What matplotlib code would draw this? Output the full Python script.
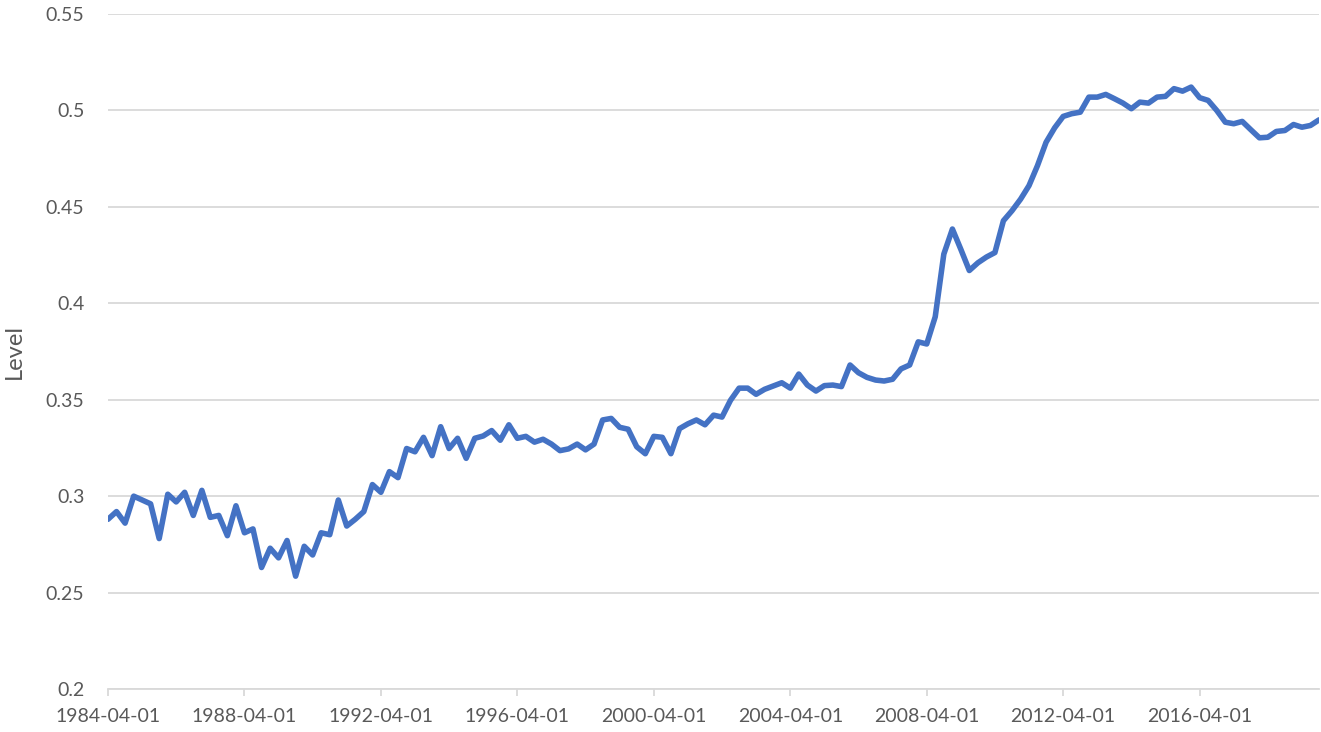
import pandas as pd
import matplotlib
matplotlib.use("Agg")
import matplotlib.pyplot as plt

# Quarterly observations, 1984-04-01 .. 2019-10-01
start_date = "1984-04-01"
level = [
    0.288, 0.292, 0.286, 0.300, 0.298, 0.296, 0.278, 0.301, 0.297, 0.302,
    0.290, 0.303, 0.289, 0.290, 0.2795, 0.295, 0.281, 0.283, 0.263, 0.273,
    0.268, 0.277, 0.2585, 0.274, 0.2695, 0.281, 0.280, 0.298, 0.2845, 0.288,
    0.292, 0.306, 0.302, 0.3127, 0.3096, 0.3247, 0.323, 0.3305, 0.321, 0.336,
    0.3247, 0.330, 0.3196, 0.330, 0.3312, 0.334, 0.329, 0.337, 0.330, 0.331,
    0.328, 0.3295, 0.327, 0.3236, 0.3245, 0.327, 0.324, 0.327, 0.3395, 0.3403,
    0.3357, 0.3347, 0.3256, 0.322, 0.331, 0.3305, 0.322, 0.335, 0.3375, 0.3395,
    0.337, 0.342, 0.341, 0.3497, 0.356, 0.356, 0.3528, 0.3554, 0.3571, 0.3588,
    0.356, 0.3633, 0.3576, 0.3545, 0.3573, 0.3576, 0.3568, 0.368, 0.364, 0.3616,
    0.3602, 0.3597, 0.3606, 0.366, 0.368, 0.380, 0.3789, 0.393, 0.4255, 0.4385,
    0.428, 0.417, 0.421, 0.424, 0.4263, 0.4428, 0.448, 0.454, 0.461, 0.4714,
    0.4835, 0.491, 0.4969, 0.4983, 0.4991, 0.5069, 0.5069, 0.5083, 0.5061, 0.5038,
    0.5009, 0.5043, 0.5038, 0.5069, 0.5073, 0.5113, 0.510, 0.5121, 0.5066, 0.5052,
    0.500, 0.4939, 0.4931, 0.4943, 0.490, 0.4858, 0.4861, 0.4891, 0.4896, 0.4927,
    0.4913, 0.4922, 0.4951,
]
y_ticks = [0.2, 0.25, 0.3, 0.35, 0.4, 0.45, 0.5, 0.55]
y_tick_labels = ["0.2", "0.25", "0.3", "0.35", "0.4", "0.45", "0.5", "0.55"]
x_tick_labels = ["1984-04-01", "1988-04-01", "1992-04-01", "1996-04-01",
                 "2000-04-01", "2004-04-01", "2008-04-01", "2012-04-01",
                 "2016-04-01"]

dates = pd.date_range(start_date, periods=len(level), freq="QS-JAN")

plt.rcParams["font.family"] = ["Lato", "DejaVu Sans"]

fig = plt.figure(figsize=(13.21, 7.32), dpi=100)
ax = fig.add_axes([108 / 1321, 1 - 689 / 732, (1319 - 108) / 1321, (689 - 14) / 732])

ax.plot(dates, level, color="#4472C4", linewidth=4.0, solid_joinstyle="round",
        solid_capstyle="round", zorder=3)

ax.set_xlim(dates[0], dates[-1])
ax.set_ylim(0.2, 0.55)

ax.set_yticks(y_ticks)
ax.set_yticklabels(y_tick_labels)
xt = pd.to_datetime(x_tick_labels)
ax.set_xticks(xt)
ax.set_xticklabels(x_tick_labels)

ax.grid(axis="y", color="#D9D9D9", linewidth=1.3)
ax.set_axisbelow(True)

for side in ["left", "right", "top"]:
    ax.spines[side].set_visible(False)
ax.spines["bottom"].set_color("#D9D9D9")
ax.spines["bottom"].set_linewidth(1.3)

ax.tick_params(axis="y", length=0, pad=17, labelsize=14, labelcolor="#595959")
ax.tick_params(axis="x", length=5, width=1.3, color="#D9D9D9", pad=9,
               labelsize=14, labelcolor="#595959")

# axis title sits near the left edge of the figure
ax.set_ylabel("Level", fontsize=17, color="#595959")
ax.yaxis.set_label_coords((25 - 108) / 1211, 0.5)

fig.savefig("out.png", dpi=100)
